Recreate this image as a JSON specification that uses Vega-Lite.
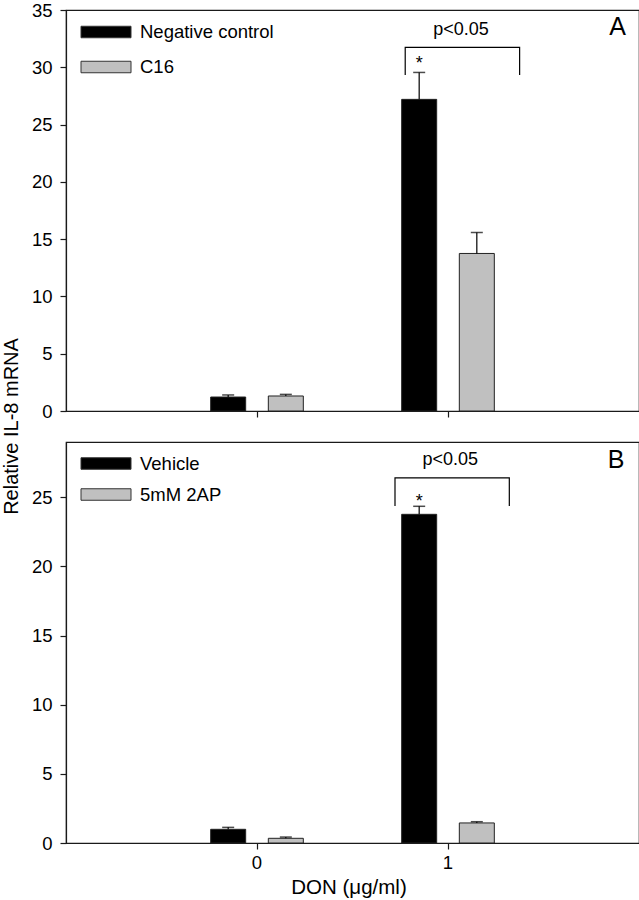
{
  "$schema": "https://vega.github.io/schema/vega-lite/v6.json",
  "background": "white",
  "padding": {"left": 0, "top": 0, "right": 0, "bottom": 0},
  "config": {
    "font": "Liberation Sans",
    "view": {"stroke": "#1a1a1a", "strokeWidth": 1.2},
    "axis": {"grid": false, "domainColor": "#1a1a1a", "domainWidth": 1.2, "tickColor": "#1a1a1a", "tickSize": 6, "tickWidth": 1.2, "labelFontSize": 18.5, "labelColor": "#000", "titleFontSize": 20, "titleFontWeight": "normal", "titleColor": "#000", "labelPadding": 4},
    "axisY": {"labelPadding": 8},
    "legend": {"labelFontSize": 18.5, "labelColor": "#000", "symbolStrokeColor": "#333", "symbolStrokeWidth": 1, "symbolType": "M-2,-0.46H2V0.46H-2Z", "symbolSize": 625, "labelOffset": 21, "title": null}
  },
  "datasets": {
    "barsA": [
      {"don": "0", "group": "Negative control", "value": 1.22, "upper": 1.40, "sig": ""},
      {"don": "0", "group": "C16", "value": 1.31, "upper": 1.45, "sig": ""},
      {"don": "1", "group": "Negative control", "value": 27.2, "upper": 29.55, "sig": "*"},
      {"don": "1", "group": "C16", "value": 13.75, "upper": 15.58, "sig": ""}
    ],
    "barsB": [
      {"don": "0", "group": "Vehicle", "value": 0.99, "upper": 1.13, "sig": ""},
      {"don": "0", "group": "5mM 2AP", "value": 0.34, "upper": 0.43, "sig": ""},
      {"don": "1", "group": "Vehicle", "value": 23.77, "upper": 24.35, "sig": "*"},
      {"don": "1", "group": "5mM 2AP", "value": 1.45, "upper": 1.54, "sig": ""}
    ],
    "bracketA": [
      {"bx": 0.776, "by": 29.32, "ord": 1},
      {"bx": 0.776, "by": 31.73, "ord": 2},
      {"bx": 1.375, "by": 31.73, "ord": 3},
      {"bx": 1.375, "by": 29.32, "ord": 4}
    ],
    "bracketB": [
      {"bx": 0.7225, "by": 24.37, "ord": 1},
      {"bx": 0.7225, "by": 26.41, "ord": 2},
      {"bx": 1.321, "by": 26.41, "ord": 3},
      {"bx": 1.321, "by": 24.37, "ord": 4}
    ],
    "labelsA": [
      {"lx": 1.068, "ly": 33.27, "txt": "p<0.05", "kind": "p"},
      {"lx": 1.888, "ly": 33.5, "txt": "A", "kind": "panel"}
    ],
    "labelsB": [
      {"lx": 1.012, "ly": 27.67, "txt": "p<0.05", "kind": "p"},
      {"lx": 1.88, "ly": 27.67, "txt": "B", "kind": "panel"}
    ]
  },
  "vconcat": [
    {
      "width": 573,
      "height": 401,
      "layer": [
        {
          "data": {"name": "barsA"},
          "encoding": {
            "x": {"field": "don", "type": "nominal", "scale": {"type": "band", "domain": ["0", "1"], "paddingInner": 0.515, "paddingOuter": 0.7575}, "axis": {"labels": false, "title": null, "ticks": true}},
            "xOffset": {"field": "group", "type": "nominal", "scale": {"domain": ["Negative control", "C16"], "paddingInner": 0.393, "paddingOuter": 0}},
            "y": {"field": "value", "type": "quantitative", "scale": {"domain": [0, 35], "nice": false, "zero": true}, "axis": {"title": null, "values": [0, 5, 10, 15, 20, 25, 30, 35]}}
          },
          "layer": [
            {
              "mark": {"type": "bar", "stroke": "#222", "strokeWidth": 1},
              "encoding": {
                "color": {"field": "group", "type": "nominal", "scale": {"domain": ["Negative control", "C16"], "range": ["#000000", "#c0c0c0"]}, "legend": {"orient": "none", "legendX": 27, "legendY": 9, "rowPadding": 12}}
              }
            },
            {
              "mark": {"type": "rule", "color": "#000", "strokeWidth": 1.2},
              "encoding": {"y2": {"field": "upper"}}
            },
            {
              "mark": {"type": "tick", "color": "#000", "size": 12, "thickness": 1.5},
              "encoding": {"y": {"field": "upper", "type": "quantitative"}}
            },
            {
              "mark": {"type": "text", "fontSize": 18, "baseline": "alphabetic", "dy": -3},
              "encoding": {"y": {"field": "upper", "type": "quantitative"}, "text": {"field": "sig"}}
            }
          ]
        },
        {
          "layer": [
            {
              "data": {"name": "bracketA"},
              "mark": {"type": "line", "color": "#000", "strokeWidth": 1.2},
              "encoding": {
                "x": {"field": "bx", "type": "quantitative", "scale": {"domain": [-1, 2], "nice": false}, "axis": null},
                "y": {"field": "by", "type": "quantitative"},
                "order": {"field": "ord"}
              }
            },
            {
              "data": {"name": "labelsA"},
              "mark": {"type": "text", "baseline": "middle", "align": "center"},
              "encoding": {
                "x": {"field": "lx", "type": "quantitative", "scale": {"domain": [-1, 2], "nice": false}, "axis": null},
                "y": {"field": "ly", "type": "quantitative"},
                "text": {"field": "txt"},
                "size": {"field": "kind", "type": "nominal", "scale": {"domain": ["p", "panel"], "range": [18, 25]}, "legend": null}
              }
            }
          ]
        }
      ],
      "resolve": {"scale": {"x": "independent"}}
    },
    {
      "width": 573,
      "height": 401,
      "layer": [
        {
          "data": {"name": "barsB"},
          "encoding": {
            "x": {"field": "don", "type": "nominal", "scale": {"type": "band", "domain": ["0", "1"], "paddingInner": 0.515, "paddingOuter": 0.7575}, "axis": {"title": "DON (μg/ml)", "labelAngle": 0, "titlePadding": 6, "titleX": 282.5, "titleAlign": "center", "titleFontSize": 20.5}},
            "xOffset": {"field": "group", "type": "nominal", "scale": {"domain": ["Vehicle", "5mM 2AP"], "paddingInner": 0.393, "paddingOuter": 0}},
            "y": {"field": "value", "type": "quantitative", "scale": {"domain": [0, 29], "nice": false, "zero": true}, "axis": {"title": "Relative IL-8 mRNA", "values": [0, 5, 10, 15, 20, 25], "titleX": -55, "titleY": -16, "titleAlign": "center", "titleBaseline": "middle", "titleAngle": -90}}
          },
          "layer": [
            {
              "mark": {"type": "bar", "stroke": "#222", "strokeWidth": 1},
              "encoding": {
                "color": {"field": "group", "type": "nominal", "scale": {"domain": ["Vehicle", "5mM 2AP"], "range": ["#000000", "#c0c0c0"]}, "legend": {"orient": "none", "legendX": 27, "legendY": 8.5, "rowPadding": 8}}
              }
            },
            {
              "mark": {"type": "rule", "color": "#000", "strokeWidth": 1.2},
              "encoding": {"y2": {"field": "upper"}}
            },
            {
              "mark": {"type": "tick", "color": "#000", "size": 12, "thickness": 1.5},
              "encoding": {"y": {"field": "upper", "type": "quantitative"}}
            },
            {
              "mark": {"type": "text", "fontSize": 18, "baseline": "alphabetic", "dy": 1},
              "encoding": {"y": {"field": "upper", "type": "quantitative"}, "text": {"field": "sig"}}
            }
          ]
        },
        {
          "layer": [
            {
              "data": {"name": "bracketB"},
              "mark": {"type": "line", "color": "#000", "strokeWidth": 1.2},
              "encoding": {
                "x": {"field": "bx", "type": "quantitative", "scale": {"domain": [-1, 2], "nice": false}, "axis": null},
                "y": {"field": "by", "type": "quantitative"},
                "order": {"field": "ord"}
              }
            },
            {
              "data": {"name": "labelsB"},
              "mark": {"type": "text", "baseline": "middle", "align": "center"},
              "encoding": {
                "x": {"field": "lx", "type": "quantitative", "scale": {"domain": [-1, 2], "nice": false}, "axis": null},
                "y": {"field": "ly", "type": "quantitative"},
                "text": {"field": "txt"},
                "size": {"field": "kind", "type": "nominal", "scale": {"domain": ["p", "panel"], "range": [18, 25]}, "legend": null}
              }
            }
          ]
        }
      ],
      "resolve": {"scale": {"x": "independent"}}
    }
  ],
  "spacing": 31,
  "bounds": "flush",
  "resolve": {"scale": {"color": "independent", "xOffset": "independent", "y": "independent", "size": "independent"}, "legend": {"color": "independent"}}
}
